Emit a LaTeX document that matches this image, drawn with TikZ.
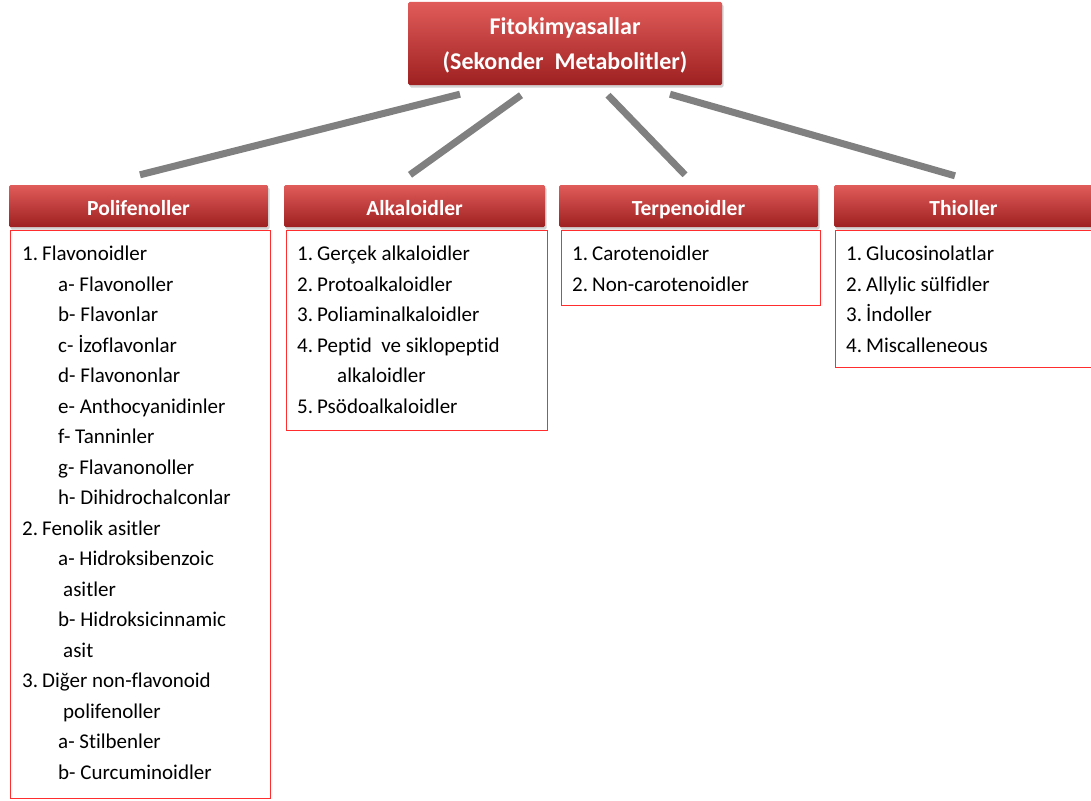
\documentclass[tikz,border=0pt]{standalone}
\usepackage{fontspec}
\setmainfont{Carlito}[Ligatures=NoCommon]
\usetikzlibrary{shadows}

\definecolor{hdrtop}{RGB}{224,92,90}
\definecolor{hdrbot}{RGB}{158,32,32}
\definecolor{framered}{RGB}{255,45,45}
\definecolor{linkgray}{RGB}{128,128,128}

\newcommand{\numitem}[2]{\makebox[20pt][l]{#1}#2}
\newcommand{\subentry}[1]{\hspace*{36pt}#1}
\newcommand{\contline}[2]{\hspace*{#1}#2}

\tikzset{
  hdr/.style={rectangle, rounded corners=1.5pt, top color=hdrtop, bottom color=hdrbot,
    text=white, inner sep=0pt,
    drop shadow={shadow xshift=1.5pt, shadow yshift=-2.5pt, opacity=0.35}},
  colhdr/.style={hdr, font=\fontsize{21.5}{26}\selectfont\bfseries, minimum height=42,
    text height=20, text depth=2},
  frame/.style={rectangle, draw=framered, line width=1pt, anchor=north west, inner sep=0pt},
  items/.style={anchor=north west, align=left, inner sep=0pt,
    font=\fontsize{21}{30.5}\selectfont},
  link/.style={draw=linkgray, line width=7pt}
}

\begin{document}
\begin{tikzpicture}[x=1pt,y=-1pt]
  \useasboundingbox (0,0) rectangle (1091,800);

  % root box
  \node[hdr, minimum width=314, minimum height=83, align=center, text depth=-2pt,
    font=\fontsize{24}{35}\selectfont\bfseries] (root) at (565,43.5)
    {Fitokimyasallar\\(Sekonder\ \ Metabolitler)};

  % column headers
  \node[colhdr, minimum width=259] (pol) at (138.5,206) {Polifenoller};
  \node[colhdr, minimum width=261] (alk) at (414.5,206) {Alkaloidler};
  \node[colhdr, minimum width=259] (ter) at (688.5,206) {Terpenoidler};
  \node[colhdr, minimum width=259] (thi) at (963.5,206) {Thioller};

  % connectors
  \draw[link] ([shift={(-105,9)}]root.south) -- ([shift={(1.5,-10)}]pol.north);
  \draw[link] ([shift={(-44,10)}]root.south) -- ([shift={(-4.5,-10)}]alk.north);
  \draw[link] ([shift={(43,10)}]root.south) -- ([shift={(-3.5,-10)}]ter.north);
  \draw[link] ([shift={(105,9)}]root.south) -- ([shift={(-8.5,-9)}]thi.north);

  % list frames
  \node[frame, minimum width=260, minimum height=568] (polF) at (10,230) {};
  \node[frame, minimum width=261, minimum height=200] (alkF) at (286,230) {};
  \node[frame, minimum width=259, minimum height=75] (terF) at (561,230) {};
  \node[frame, minimum width=262, minimum height=137] (thiF) at (835,230) {};

  % list texts
  \node[items] (polT) at ([shift={(12,16)}]polF.north west) {%
    \numitem{1.}{Flavonoidler}\\
    \subentry{a- Flavonoller}\\
    \subentry{b- Flavonlar}\\
    \subentry{c- İzoflavonlar}\\
    \subentry{d- Flavononlar}\\
    \subentry{e- Anthocyanidinler}\\
    \subentry{f- Tanninler}\\
    \subentry{g- Flavanonoller}\\
    \subentry{h- Dihidrochalconlar}\\
    \numitem{2.}{Fenolik asitler}\\
    \subentry{a- Hidroksibenzoic}\\
    \contline{41pt}{asitler}\\
    \subentry{b- Hidroksicinnamic}\\
    \contline{41pt}{asit}\\
    \numitem{3.}{Diğer non-flavonoid}\\
    \contline{41pt}{polifenoller}\\
    \subentry{a- Stilbenler}\\
    \subentry{b- Curcuminoidler}};
  \node[items] (alkT) at ([shift={(11,16)}]alkF.north west) {%
    \numitem{1.}{Gerçek alkaloidler}\\
    \numitem{2.}{Protoalkaloidler}\\
    \numitem{3.}{Poliaminalkaloidler}\\
    \numitem{4.}{Peptid\ \ ve siklopeptid}\\
    \contline{40pt}{alkaloidler}\\
    \numitem{5.}{Psödoalkaloidler}};
  \node[items] (terT) at ([shift={(11,16)}]terF.north west) {%
    \numitem{1.}{Carotenoidler}\\
    \numitem{2.}{Non-carotenoidler}};
  \node[items] (thiT) at ([shift={(11,16)}]thiF.north west) {%
    \numitem{1.}{Glucosinolatlar}\\
    \numitem{2.}{Allylic sülfidler}\\
    \numitem{3.}{İndoller}\\
    \numitem{4.}{Miscalleneous}};
\end{tikzpicture}
\end{document}
